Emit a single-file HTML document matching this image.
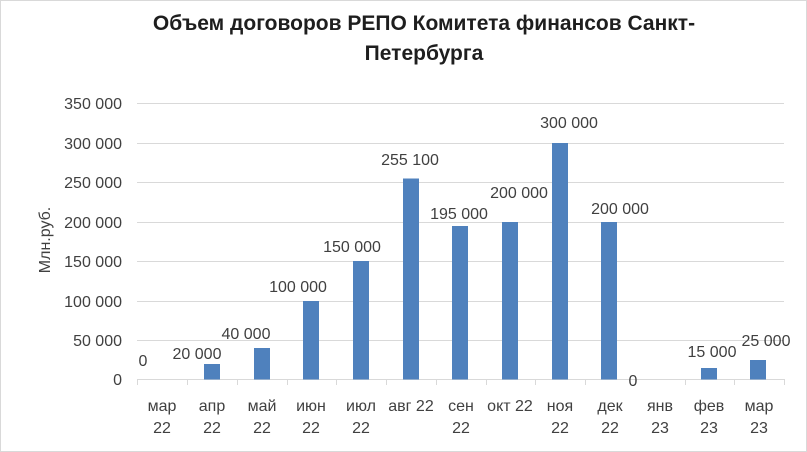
<!DOCTYPE html>
<html><head><meta charset="utf-8"><style>
body{margin:0;background:#fff}
svg{display:block;font-family:"Liberation Sans","DejaVu Sans",sans-serif}
</style></head><body>
<svg width="807" height="452" viewBox="0 0 807 452">
<rect x="0.5" y="0.5" width="806" height="451" fill="#fff" stroke="#d9d9d9"/>
<g font-weight="bold" font-size="21" fill="#1e1e1e" text-anchor="middle">
<text x="424" y="30">Объем договоров  РЕПО Комитета финансов Санкт-</text>
<text x="424" y="60">Петербурга</text>
</g>
<g stroke="#d9d9d9" stroke-width="1">
<line x1="137" x2="784" y1="103.5" y2="103.5"/>
<line x1="137" x2="784" y1="143.5" y2="143.5"/>
<line x1="137" x2="784" y1="182.5" y2="182.5"/>
<line x1="137" x2="784" y1="222.5" y2="222.5"/>
<line x1="137" x2="784" y1="261.5" y2="261.5"/>
<line x1="137" x2="784" y1="301.5" y2="301.5"/>
<line x1="137" x2="784" y1="340.5" y2="340.5"/>
<line x1="137" x2="784" y1="379.5" y2="379.5"/>
<line x1="137.5" x2="137.5" y1="379" y2="385"/><line x1="187.5" x2="187.5" y1="379" y2="385"/><line x1="237.5" x2="237.5" y1="379" y2="385"/><line x1="287.5" x2="287.5" y1="379" y2="385"/><line x1="336.5" x2="336.5" y1="379" y2="385"/><line x1="386.5" x2="386.5" y1="379" y2="385"/><line x1="436.5" x2="436.5" y1="379" y2="385"/><line x1="486.5" x2="486.5" y1="379" y2="385"/><line x1="535.5" x2="535.5" y1="379" y2="385"/><line x1="585.5" x2="585.5" y1="379" y2="385"/><line x1="635.5" x2="635.5" y1="379" y2="385"/><line x1="685.5" x2="685.5" y1="379" y2="385"/><line x1="734.5" x2="734.5" y1="379" y2="385"/><line x1="784.5" x2="784.5" y1="379" y2="385"/>
</g>
<g font-size="16" fill="#404040" text-anchor="end">
<text x="122" y="109">350 000</text><text x="122" y="149">300 000</text><text x="122" y="188">250 000</text><text x="122" y="228">200 000</text><text x="122" y="267">150 000</text><text x="122" y="307">100 000</text><text x="122" y="346">50 000</text><text x="122" y="385">0</text>
</g>
<text transform="translate(50,240) rotate(-90)" font-size="16" fill="#404040" text-anchor="middle">Млн.руб.</text>
<g fill="#4f81bd">
<rect x="204" y="364" width="16" height="15.5"/>
<rect x="254" y="348" width="16" height="31.5"/>
<rect x="303" y="301" width="16" height="78.5"/>
<rect x="353" y="261" width="16" height="118.5"/>
<rect x="403" y="178.5" width="16" height="201"/>
<rect x="452" y="226" width="16" height="153.5"/>
<rect x="502" y="222" width="16" height="157.5"/>
<rect x="552" y="143" width="16" height="236.5"/>
<rect x="601" y="222" width="16" height="157.5"/>
<rect x="701" y="368" width="16" height="11.5"/>
<rect x="750" y="360" width="16" height="19.5"/>
</g>
<g font-size="16" fill="#404040" text-anchor="middle">
<text x="143" y="366">0</text><text x="197" y="359">20 000</text><text x="246" y="339">40 000</text><text x="298" y="292">100 000</text><text x="352" y="252">150 000</text><text x="410" y="165">255 100</text><text x="459" y="219">195 000</text><text x="519" y="198">200 000</text><text x="569" y="128">300 000</text><text x="620" y="214">200 000</text><text x="633" y="386">0</text><text x="712" y="357">15 000</text><text x="766" y="346">25 000</text>
</g>
<g font-size="16" fill="#404040" text-anchor="middle">
<text x="162" y="411">мар</text><text x="162" y="433">22</text>
<text x="212" y="411">апр</text><text x="212" y="433">22</text>
<text x="262" y="411">май</text><text x="262" y="433">22</text>
<text x="311" y="411">июн</text><text x="311" y="433">22</text>
<text x="361" y="411">июл</text><text x="361" y="433">22</text>
<text x="411" y="411">авг 22</text>
<text x="461" y="411">сен</text><text x="461" y="433">22</text>
<text x="510" y="411">окт 22</text>
<text x="560" y="411">ноя</text><text x="560" y="433">22</text>
<text x="610" y="411">дек</text><text x="610" y="433">22</text>
<text x="660" y="411">янв</text><text x="660" y="433">23</text>
<text x="709" y="411">фев</text><text x="709" y="433">23</text>
<text x="759" y="411">мар</text><text x="759" y="433">23</text>
</g>
</svg>
</body></html>
